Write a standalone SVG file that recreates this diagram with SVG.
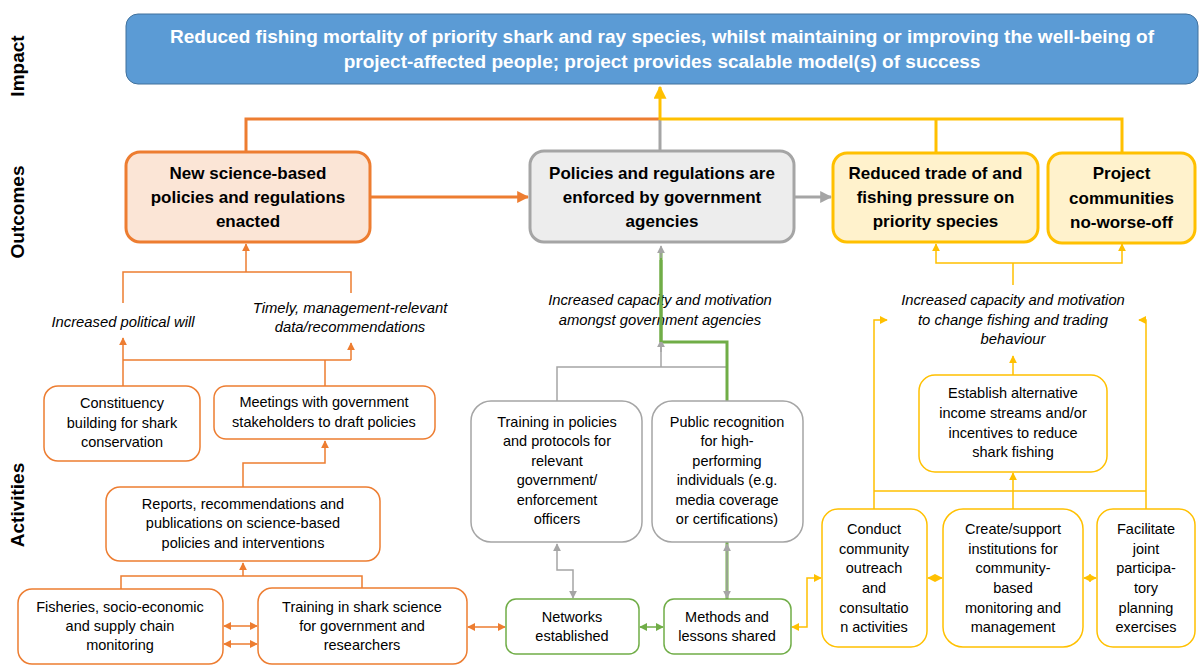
<svg xmlns="http://www.w3.org/2000/svg" width="1200" height="672" viewBox="0 0 1200 672">
<style>
  text { font-family: "Liberation Sans", Arial, sans-serif; fill: #000; text-anchor: middle; }
  .lbl { font-size: 19px; font-weight: bold; }
  .imp { font-size: 19px; font-weight: bold; fill: #fff; }
  .out { font-size: 17px; font-weight: bold; }
  .act { font-size: 14.5px; }
  .it { font-size: 14.8px; font-style: italic; }
  .c { fill: none; }
  .oT { stroke: #ED7D31; stroke-width: 3; }
  .gT { stroke: #A5A5A5; stroke-width: 3; }
  .yT { stroke: #FFC000; stroke-width: 3; }
  .grT { stroke: #70AD47; stroke-width: 3; }
  .o { stroke: #ED7D31; stroke-width: 1.5; }
  .g { stroke: #A5A5A5; stroke-width: 1.5; }
  .y { stroke: #FFC000; stroke-width: 1.5; }
  .gr { stroke: #70AD47; stroke-width: 1.5; }
  .bOut { stroke-width: 3; }
  .bO { fill: #fff; stroke: #ED7D31; stroke-width: 1.5; }
  .bG { fill: #fff; stroke: #A5A5A5; stroke-width: 1.5; }
  .bGr { fill: #fff; stroke: #70AD47; stroke-width: 1.5; }
  .bY { fill: #fff; stroke: #FFC000; stroke-width: 1.5; }
</style>
<defs>
  <marker id="aOL" viewBox="0 0 10 10" refX="9" refY="5" markerWidth="12" markerHeight="12" markerUnits="userSpaceOnUse" orient="auto-start-reverse"><path d="M0,0 L10,5 L0,10 z" fill="#ED7D31"/></marker>
  <marker id="aGL" viewBox="0 0 10 10" refX="9" refY="5" markerWidth="12" markerHeight="12" markerUnits="userSpaceOnUse" orient="auto-start-reverse"><path d="M0,0 L10,5 L0,10 z" fill="#A5A5A5"/></marker>
  <marker id="aYL" viewBox="0 0 10 10" refX="9" refY="5" markerWidth="13" markerHeight="13" markerUnits="userSpaceOnUse" orient="auto-start-reverse"><path d="M0,0 L10,5 L0,10 z" fill="#FFC000"/></marker>
  <marker id="aO" viewBox="0 0 10 10" refX="9" refY="5" markerWidth="8" markerHeight="8" markerUnits="userSpaceOnUse" orient="auto-start-reverse"><path d="M0,0 L10,5 L0,10 z" fill="#ED7D31"/></marker>
  <marker id="aG" viewBox="0 0 10 10" refX="9" refY="5" markerWidth="8" markerHeight="8" markerUnits="userSpaceOnUse" orient="auto-start-reverse"><path d="M0,0 L10,5 L0,10 z" fill="#A5A5A5"/></marker>
  <marker id="aY" viewBox="0 0 10 10" refX="9" refY="5" markerWidth="8" markerHeight="8" markerUnits="userSpaceOnUse" orient="auto-start-reverse"><path d="M0,0 L10,5 L0,10 z" fill="#FFC000"/></marker>
  <marker id="aGr" viewBox="0 0 10 10" refX="9" refY="5" markerWidth="8" markerHeight="8" markerUnits="userSpaceOnUse" orient="auto-start-reverse"><path d="M0,0 L10,5 L0,10 z" fill="#70AD47"/></marker>
</defs>
<rect width="1200" height="672" fill="#fff"/>

<!-- section labels -->
<g id="labels">
  <text class="lbl" transform="translate(24,66) rotate(-90)">Impact</text>
  <text class="lbl" transform="translate(24,212) rotate(-90)">Outcomes</text>
  <text class="lbl" transform="translate(24,505) rotate(-90)">Activities</text>
</g>

<!-- connectors -->
<g id="connectors" class="c">
  <!-- top level -->
  <path class="oT" d="M246,152 V119 H660"/>
  <path class="gT" d="M660,151 V119"/>
  <path class="yT" d="M660,119 H936 V153 M936,119 H1122 V153"/>
  <path class="yT" d="M660,120 V87" marker-end="url(#aYL)"/>
  <path class="oT" d="M370,197 H528" marker-end="url(#aOL)"/>
  <path class="gT" d="M794,197 H831" marker-end="url(#aGL)"/>

  <!-- left column -->
  <path class="o" d="M123,303 V272 H351 V293"/>
  <path class="o" d="M246,272 V244" marker-end="url(#aO)"/>
  <path class="o" d="M123,386 V338" marker-end="url(#aO)"/>
  <path class="o" d="M325,386 V360 M123,360 H351"/>
  <path class="o" d="M351,360 V343" marker-end="url(#aO)"/>
  <path class="o" d="M243,487 V463 H325 V441" marker-end="url(#aO)"/>
  <path class="o" d="M121,589 V576 H362 V588"/>
  <path class="o" d="M243,576 V563" marker-end="url(#aO)"/>
  <path class="o" d="M224,626 H257" marker-start="url(#aO)" marker-end="url(#aO)"/>
  <path class="o" d="M224,644 H257" marker-start="url(#aO)" marker-end="url(#aO)"/>
  <path class="o" d="M468,627 H505" marker-start="url(#aO)" marker-end="url(#aO)"/>

  <!-- middle column -->
  <path class="g" d="M557,401 V367 H727 V401 M661,367 V341"/>
  <path class="grT" d="M727,599 V342 H661 V250"/>
  <path class="g" d="M661,352 V340" marker-end="url(#aG)"/>
  <path class="g" d="M661,258 V246" marker-end="url(#aG)"/>
  <path class="g" d="M727,544 V598" marker-start="url(#aG)" marker-end="url(#aG)"/>
  <path class="g" d="M557,544 V570 H573 V598" marker-start="url(#aG)" marker-end="url(#aG)"/>
  <path class="gr" d="M640,627 H663" marker-start="url(#aGr)" marker-end="url(#aGr)"/>
  <path class="y" d="M792,627 H807 V578 H821" marker-start="url(#aY)" marker-end="url(#aY)"/>

  <!-- right column -->
  <path class="y" d="M1013,285 V263"/>
  <path class="y" d="M1013,263 H936 V244" marker-end="url(#aY)"/>
  <path class="y" d="M1013,263 H1122 V244" marker-end="url(#aY)"/>
  <path class="y" d="M874,509 V320 H887" marker-end="url(#aY)"/>
  <path class="y" d="M1146,509 V320 H1139" marker-end="url(#aY)"/>
  <path class="y" d="M874,491 H1146"/>
  <path class="y" d="M1013,509 V473" marker-end="url(#aY)"/>
  <path class="y" d="M1013,375 V356" marker-end="url(#aY)"/>
  <path class="y" d="M928,578 H942" marker-start="url(#aY)" marker-end="url(#aY)"/>
  <path class="y" d="M1084,578 H1096" marker-start="url(#aY)" marker-end="url(#aY)"/>
</g>

<!-- intermediate result labels -->
<g id="results" class="it">
  <text class="it" x="123" y="327">Increased political will</text>
  <text class="it" x="350" y="313">Timely, management-relevant</text>
  <text class="it" x="350" y="332">data/recommendations</text>
  <text class="it" x="660" y="305">Increased capacity and motivation</text>
  <text class="it" x="660" y="325">amongst government agencies</text>
  <text class="it" x="1013" y="305">Increased capacity and motivation</text>
  <text class="it" x="1013" y="325">to change fishing and trading</text>
  <text class="it" x="1013" y="344">behaviour</text>
</g>
<!-- green line crosses the label text -->
<path class="c grT" d="M661,342 V260"/>

<!-- impact -->
<g id="impact">
  <rect x="126" y="14" width="1072" height="70" rx="12" fill="#5B9BD5" stroke="#41719C" stroke-width="1"/>
  <text class="imp" x="662" y="43">Reduced fishing mortality of priority shark and ray species, whilst maintaining or improving the well-being of</text>
  <text class="imp" x="662" y="68">project-affected people; project provides scalable model(s) of success</text>
</g>

<!-- outcomes -->
<g id="outcome-policies">
  <rect x="126" y="152" width="244" height="90" rx="14" fill="#FBE5D6" stroke="#ED7D31" class="bOut"/>
  <text class="out" x="248" y="179">New science-based</text>
  <text class="out" x="248" y="203">policies and regulations</text>
  <text class="out" x="248" y="227">enacted</text>
</g>
<g id="outcome-enforced">
  <rect x="530" y="151" width="264" height="91" rx="14" fill="#EDEDED" stroke="#A5A5A5" class="bOut"/>
  <text class="out" x="662" y="179">Policies and regulations are</text>
  <text class="out" x="662" y="203">enforced by government</text>
  <text class="out" x="662" y="227">agencies</text>
</g>
<g id="outcome-trade">
  <rect x="833" y="153" width="205" height="89" rx="14" fill="#FFF2CC" stroke="#FFC000" class="bOut"/>
  <text class="out" x="935.5" y="179">Reduced trade of and</text>
  <text class="out" x="935.5" y="203">fishing pressure on</text>
  <text class="out" x="935.5" y="227">priority species</text>
</g>
<g id="outcome-communities">
  <rect x="1048" y="153" width="147" height="90" rx="14" fill="#FFF2CC" stroke="#FFC000" class="bOut"/>
  <text class="out" x="1121.5" y="179">Project</text>
  <text class="out" x="1121.5" y="204">communities</text>
  <text class="out" x="1121.5" y="228">no-worse-off</text>
</g>

<!-- activities: left -->
<g id="act-constituency">
  <rect x="44" y="386" width="156" height="75" rx="14" class="bO"/>
  <text class="act" x="122" y="408">Constituency</text>
  <text class="act" x="122" y="428">building for shark</text>
  <text class="act" x="122" y="447">conservation</text>
</g>
<g id="act-meetings">
  <rect x="214" y="386" width="221" height="53" rx="12" class="bO"/>
  <text class="act" x="324" y="407">Meetings with government</text>
  <text class="act" x="324" y="427">stakeholders to draft policies</text>
</g>
<g id="act-reports">
  <rect x="106" y="487" width="274" height="74" rx="14" class="bO"/>
  <text class="act" x="243" y="509">Reports, recommendations and</text>
  <text class="act" x="243" y="528">publications on science-based</text>
  <text class="act" x="243" y="548">policies and interventions</text>
</g>
<g id="act-fisheries">
  <rect x="18" y="589" width="205" height="75" rx="14" class="bO"/>
  <text class="act" x="120" y="612">Fisheries, socio-economic</text>
  <text class="act" x="120" y="631">and supply chain</text>
  <text class="act" x="120" y="650">monitoring</text>
</g>
<g id="act-training-science">
  <rect x="258" y="588" width="209" height="76" rx="14" class="bO"/>
  <text class="act" x="362" y="612">Training in shark science</text>
  <text class="act" x="362" y="631">for government and</text>
  <text class="act" x="362" y="650">researchers</text>
</g>

<!-- activities: middle -->
<g id="act-training-policies">
  <rect x="471" y="401" width="171" height="141" rx="20" class="bG"/>
  <text class="act" x="557" y="427">Training in policies</text>
  <text class="act" x="557" y="446">and protocols for</text>
  <text class="act" x="557" y="466">relevant</text>
  <text class="act" x="557" y="485">government/</text>
  <text class="act" x="557" y="505">enforcement</text>
  <text class="act" x="557" y="524">officers</text>
</g>
<g id="act-recognition">
  <rect x="652" y="401" width="151" height="141" rx="20" class="bG"/>
  <text class="act" x="727" y="427">Public recognition</text>
  <text class="act" x="727" y="446">for high-</text>
  <text class="act" x="727" y="466">performing</text>
  <text class="act" x="727" y="485">individuals (e.g.</text>
  <text class="act" x="727" y="505">media coverage</text>
  <text class="act" x="727" y="524">or certifications)</text>
</g>
<g id="act-networks">
  <rect x="506" y="599" width="133" height="55" rx="10" class="bGr"/>
  <text class="act" x="572" y="622">Networks</text>
  <text class="act" x="572" y="641">established</text>
</g>
<g id="act-methods">
  <rect x="664" y="599" width="127" height="55" rx="10" class="bGr"/>
  <text class="act" x="727" y="622">Methods and</text>
  <text class="act" x="727" y="641">lessons shared</text>
</g>

<!-- activities: right -->
<g id="act-establish">
  <rect x="919" y="375" width="188" height="97" rx="16" class="bY"/>
  <text class="act" x="1013" y="398">Establish alternative</text>
  <text class="act" x="1013" y="418">income streams and/or</text>
  <text class="act" x="1013" y="438">incentives to reduce</text>
  <text class="act" x="1013" y="457">shark fishing</text>
</g>
<g id="act-conduct">
  <rect x="822" y="509" width="105" height="138" rx="16" class="bY"/>
  <text class="act" x="874" y="534">Conduct</text>
  <text class="act" x="874" y="554">community</text>
  <text class="act" x="874" y="573">outreach</text>
  <text class="act" x="874" y="593">and</text>
  <text class="act" x="874" y="613">consultatio</text>
  <text class="act" x="874" y="632">n activities</text>
</g>
<g id="act-create">
  <rect x="943" y="509" width="140" height="138" rx="20" class="bY"/>
  <text class="act" x="1013" y="534">Create/support</text>
  <text class="act" x="1013" y="554">institutions for</text>
  <text class="act" x="1013" y="573">community-</text>
  <text class="act" x="1013" y="593">based</text>
  <text class="act" x="1013" y="613">monitoring and</text>
  <text class="act" x="1013" y="632">management</text>
</g>
<g id="act-facilitate">
  <rect x="1097" y="509" width="98" height="138" rx="16" class="bY"/>
  <text class="act" x="1146" y="534">Facilitate</text>
  <text class="act" x="1146" y="554">joint</text>
  <text class="act" x="1146" y="573">participa-</text>
  <text class="act" x="1146" y="593">tory</text>
  <text class="act" x="1146" y="613">planning</text>
  <text class="act" x="1146" y="632">exercises</text>
</g>
</svg>
